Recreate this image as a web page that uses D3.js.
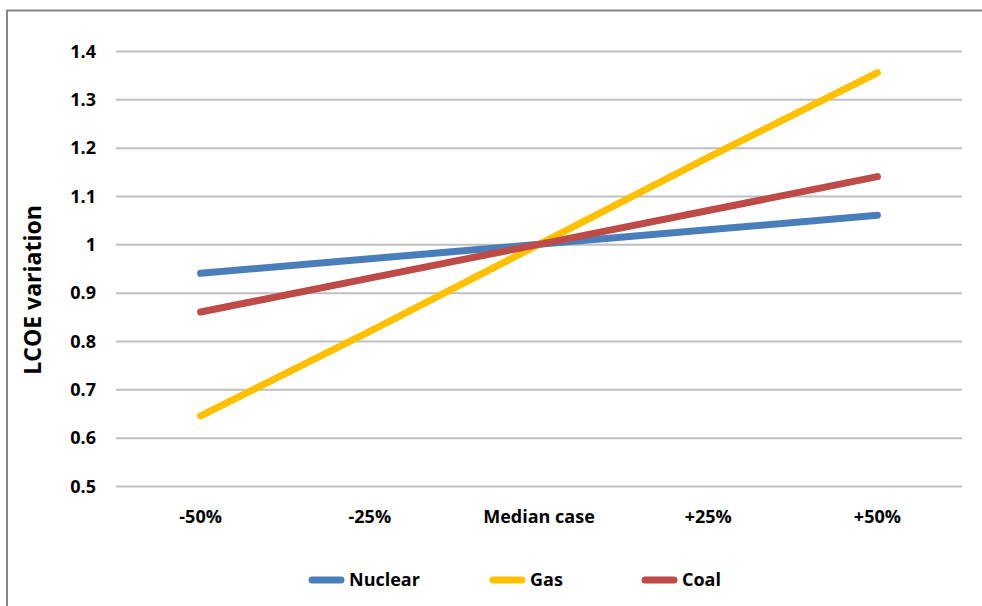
<!DOCTYPE html>
<html><head><meta charset="utf-8">
<script src="https://cdn.jsdelivr.net/npm/d3@7"></script>
<style>body{margin:0;background:#fff}svg{display:block}text{font-family:"Open Sans","Liberation Sans",sans-serif;font-weight:bold;fill:#000}</style>
</head><body><svg id="c" width="982" height="606"></svg>
<script>
const categories = ["-50%", "-25%", "Median case", "+25%", "+50%"];
const nuclear = [0.94, 0.97, 1.0, 1.03, 1.06];
const gas = [0.645, 0.82, 1.0, 1.18, 1.355];
const coal = [0.86, 0.93, 1.0, 1.07, 1.14];
const yTicks = [0.5, 0.6, 0.7, 0.8, 0.9, 1, 1.1, 1.2, 1.3, 1.4];
const seriesNames = ["Nuclear", "Gas", "Coal"];
const seriesColors = ["#4a7ebb", "#ffc000", "#be4b48"];
const seriesData = [nuclear, gas, coal];

const svg = d3.select("#c");
svg.append("rect").attr("x", 7).attr("y", 10.5).attr("width", 990).attr("height", 620)
  .attr("fill", "none").attr("stroke", "#888").attr("stroke-width", 2);

const x = d3.scaleBand().domain(categories).range([116, 962]);
const y = d3.scaleLinear().domain([0.5, 1.4]).range([486, 51]);

const gy = svg.append("g").attr("transform", "translate(116,0)")
  .call(d3.axisLeft(y).tickValues(yTicks).tickFormat(d => String(d)).tickSize(-846).tickPadding(20));
gy.select(".domain").remove();
gy.selectAll(".tick line").attr("stroke", "#bfbfbf").attr("stroke-width", 2);
gy.selectAll(".tick text").style("font-size", "18px").style("font-family", "'Open Sans', sans-serif").attr("dy", "0.35em");

const gx = svg.append("g").attr("transform", "translate(0,486)")
  .call(d3.axisBottom(x).tickSize(0).tickPadding(24));
gx.select(".domain").remove();
gx.selectAll(".tick text").style("font-size", "18px").style("font-family", "'Open Sans', sans-serif");

svg.append("text").attr("transform", "translate(41,290) rotate(-90)")
  .attr("text-anchor", "middle").style("font-size", "23px").text("LCOE variation");

const line = d3.line().x((d, i) => x(categories[i]) + x.bandwidth() / 2).y(d => y(d));
seriesData.forEach((s, i) => {
  svg.append("path").datum(s).attr("d", line).attr("fill", "none")
    .attr("stroke", seriesColors[i]).attr("stroke-width", 7).attr("stroke-linecap", "round");
});

const legX = [312, 493, 645];
const lg = svg.append("g");
seriesNames.forEach((n, i) => {
  lg.append("line").attr("x1", legX[i]).attr("x2", legX[i] + 29).attr("y1", 580).attr("y2", 580)
    .attr("stroke", seriesColors[i]).attr("stroke-width", 7).attr("stroke-linecap", "round");
  lg.append("text").attr("x", legX[i] + 37).attr("y", 580).attr("dy", "0.35em")
    .style("font-size", "18px").text(n);
});
</script></body></html>
